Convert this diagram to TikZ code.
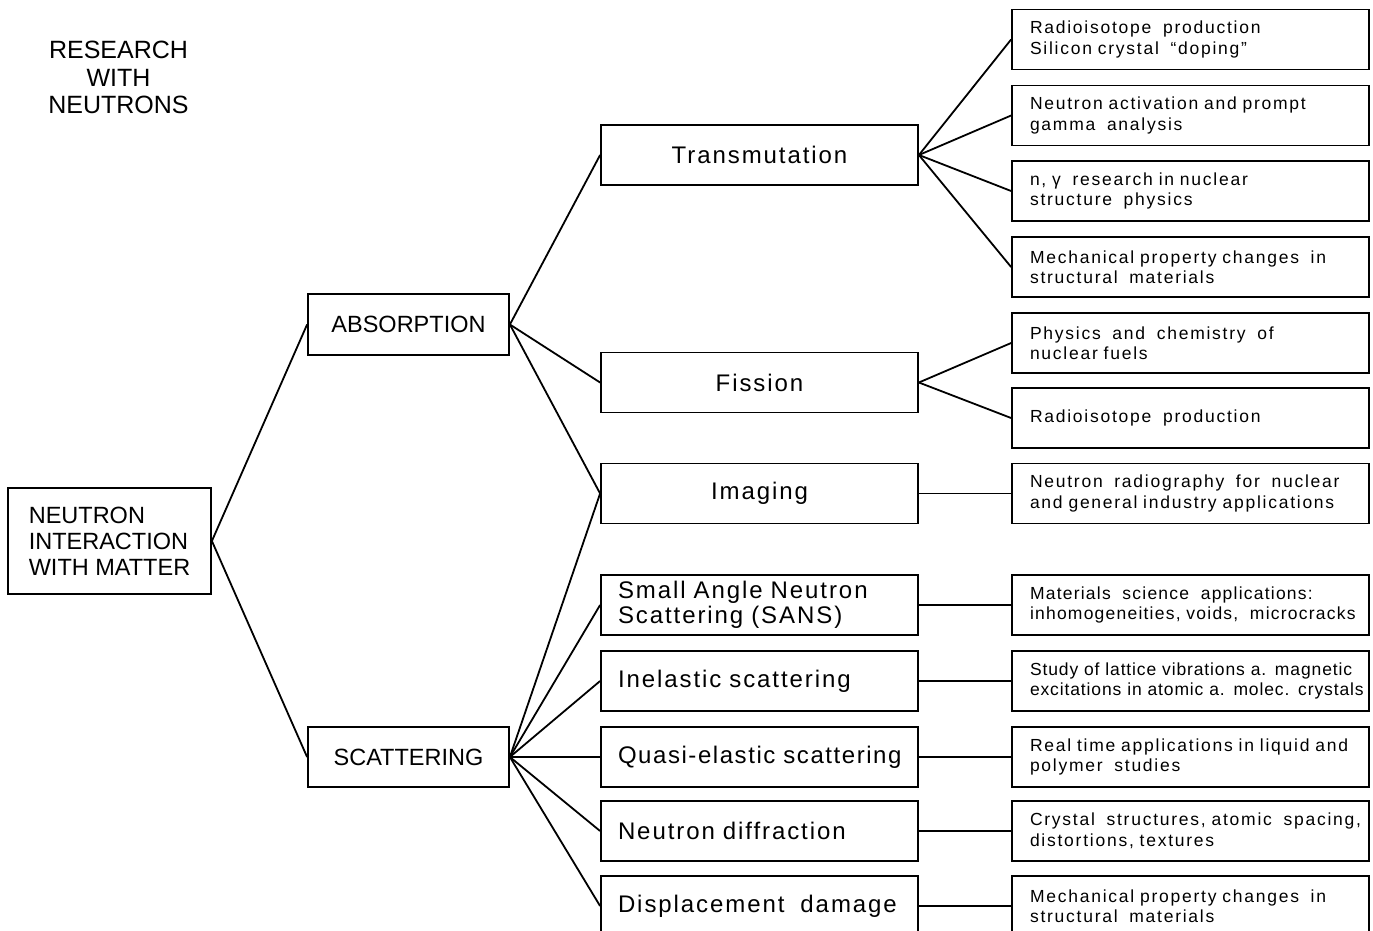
\documentclass[tikz,border=0pt]{standalone}
\usepackage{fontspec}
\setmainfont{Liberation Sans}
\newfontfamily\rfont{Liberation Sans}[LetterSpace=10]
\newfontfamily\rfontb{Liberation Sans}[LetterSpace=5]
\newfontfamily\rfontc{Liberation Sans}[LetterSpace=7]
\newfontfamily\mfont{Liberation Sans}[LetterSpace=8]
\newfontfamily\mfontb{Liberation Sans}[LetterSpace=6.5]
\newcommand\nb[1]{\mbox{#1}}
\begin{document}
\begin{tikzpicture}[x=1pt,y=-1pt,
  box/.style={draw, line width=1.8pt, rectangle, inner sep=0pt},
  capbox/.style={box, align=left, font=\fontsize{23.5}{26}\selectfont},
  mid/.style={box, minimum width=317pt, minimum height=60pt, font=\mfont\fontsize{24}{25}\selectfont},
  midc/.style={mid, align=center},
  midl/.style={mid, text width=283pt, inner xsep=17pt, align=left},
  rbox/.style={box, minimum width=357pt, minimum height=60pt, text width=321pt, inner xsep=18pt, align=left, font=\rfont\fontsize{17.5}{20.5}\selectfont},
  link/.style={line width=1.8pt}
]
\useasboundingbox (0,0) rectangle (1373,930);
\clip (0,0) rectangle (1373,930);

% title
\node[align=center, font=\fontsize{25}{27.5}\selectfont, inner sep=0pt] (title) at (118.5,77.5) {RESEARCH\\WITH\\NEUTRONS};

% root
\node[capbox, minimum width=203pt, minimum height=106pt] (root) at (109.5,541) {NEUTRON\\INTERACTION\\WITH MATTER};

% level 1
\node[capbox, minimum width=201pt, minimum height=61pt] (abs) at (408.5,324.5) {ABSORPTION};
\node[capbox, minimum width=201pt, minimum height=60pt] (scat) at (408.5,757) {SCATTERING};

% level 2
\node[midc] (trans) at (759.5,155) {Transmutation};
\node[midc] (fis) at (759.5,382.5) {Fission};
\node[midc] (img) at (759.5,493.5) {Imaging};
\node[midl] (sans) at (759.5,605) {\nb{Small Angle Neutron}\\\nb{Scattering (SANS)}};
\node[midl] (inel) at (759.5,681) {\nb{Inelastic scattering}};
\node[midl, font=\mfontb\fontsize{24}{25}\selectfont] (quasi) at (759.5,757) {\nb{Quasi-elastic scattering}};
\node[midl] (diff) at (759.5,831) {\nb{Neutron diffraction}};
\node[midl] (disp) at (759.5,906) {\nb{Displacement\ \ damage}};

% level 3
\node[rbox] (r1) at (1190.5,39.5) {\nb{Radioisotope\ \ production}\\\nb{Silicon crystal\ \ “doping”}};
\node[rbox] (r2) at (1190.5,115.5) {\nb{Neutron activation and prompt}\\\nb{gamma\ \ analysis}};
\node[rbox] (r3) at (1190.5,191) {\nb{n, γ\ \ research in nuclear}\\\nb{structure\ \ physics}};
\node[rbox] (r4) at (1190.5,267) {\nb{Mechanical property changes\ \ in}\\\nb{structural\ \ materials}};
\node[rbox] (r5) at (1190.5,343) {\nb{Physics\ \ and\ \ chemistry\ \ of}\\\nb{nuclear fuels}};
\node[rbox] (r6) at (1190.5,418) {\nb{Radioisotope\ \ production}};
\node[rbox] (r7) at (1190.5,493.5) {\nb{Neutron\ \ radiography\ \ for\ \ nuclear}\\\nb{and general industry applications}};
\node[rbox, font=\rfontc\fontsize{17.5}{20.5}\selectfont] (r8) at (1190.5,605) {\nb{Materials\ \ science\ \ applications:}\\\nb{inhomogeneities, voids,\ \ microcracks}};
\node[rbox, font=\rfontb\fontsize{17.5}{20.5}\selectfont] (r9) at (1190.5,681) {\nb{Study of lattice vibrations a. magnetic}\\\nb{excitations in atomic a. molec. crystals}};
\node[rbox] (r10) at (1190.5,757) {\nb{Real time applications in liquid and}\\\nb{polymer\ \ studies}};
\node[rbox] (r11) at (1190.5,831) {\nb{Crystal\ \ structures, atomic\ \ spacing,}\\\nb{distortions, textures}};
\node[rbox] (r12) at (1190.5,906) {\nb{Mechanical property changes\ \ in}\\\nb{structural\ \ materials}};

% connectors
\draw[link] (root.east) -- (abs.west);
\draw[link] (root.east) -- (scat.west);
\foreach \c in {trans,fis,img} \draw[link] (abs.east) -- (\c.west);
\foreach \c in {img,sans,inel,quasi,diff,disp} \draw[link] (scat.east) -- (\c.west);
\foreach \c in {r1,r2,r3,r4} \draw[link] (trans.east) -- (\c.west);
\foreach \c in {r5,r6} \draw[link] (fis.east) -- (\c.west);
\draw[link] (img.east) -- (r7.west);
\draw[link] (sans.east) -- (r8.west);
\draw[link] (inel.east) -- (r9.west);
\draw[link] (quasi.east) -- (r10.west);
\draw[link] (diff.east) -- (r11.west);
\draw[link] (disp.east) -- (r12.west);
\end{tikzpicture}
\end{document}
